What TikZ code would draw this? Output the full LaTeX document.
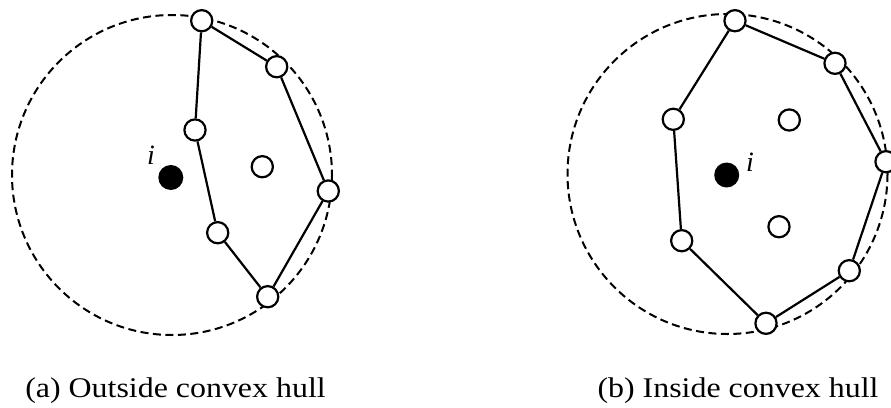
\documentclass[tikz,border=0pt]{standalone}
\usepackage{fontspec}
\setmainfont{Liberation Serif}
\begin{document}
\begin{tikzpicture}[x=1pt,y=-1pt,
  pt/.style={circle,draw,fill=white,line width=2.2pt,minimum size=21.2pt,inner sep=0pt},
  agent/.style={circle,fill=black,minimum size=25pt,inner sep=0pt},
  hull/.style={line width=2.2pt},
  ring/.style={line width=2pt,dash pattern=on 8pt off 4.5pt},
  lbl/.style={font=\fontsize{28}{32}\selectfont\itshape,inner sep=0pt},
  captxt/.style={font=\fontsize{28.5}{34}\selectfont,inner sep=0pt,anchor=base}]
\useasboundingbox (0,0) rectangle (891,407);
\clip (0,0) rectangle (891,407);
% ---------- (a) ----------
\draw[ring] (172,175) circle[radius=160];
\node[agent] (ai) at (170.8,177.5) {};
\node[lbl] (ail) at (151,155) {i};
\node[pt] (a1) at (201.7,20.7) {};
\node[pt] (a2) at (276.7,66.7) {};
\node[pt] (a3) at (328.3,191) {};
\node[pt] (a4) at (267.7,296.7) {};
\node[pt] (a5) at (217.7,232.7) {};
\node[pt] (a6) at (195,130) {};
\node[pt] (a7) at (262.3,166.7) {};
\draw[hull] (a1) -- (a2) -- (a3) -- (a4) -- (a5) -- (a6) -- (a1);
\node[captxt] (capa) at (175.5,397) {\scalebox{1.12}[1]{(a) Outside convex hull}};
% ---------- (b) ----------
\draw[ring] (727.5,174) circle[radius=160];
\node[agent] (bi) at (726.7,175) {};
\node[lbl] (bil) at (750,162) {i};
\node[pt] (b1) at (735,20.7) {};
\node[pt] (b2) at (835,63.3) {};
\node[pt] (b3) at (886,161.7) {};
\node[pt] (b4) at (849.3,270.7) {};
\node[pt] (b5) at (766,323.3) {};
\node[pt] (b6) at (681.7,240.7) {};
\node[pt] (b7) at (673.3,119.3) {};
\node[pt] (b8) at (789.3,120) {};
\node[pt] (b9) at (779,226.7) {};
\draw[hull] (b1) -- (b2) -- (b3) -- (b4) -- (b5) -- (b6) -- (b7) -- (b1);
\node[captxt] (capb) at (738,397) {\scalebox{1.12}[1]{(b) Inside convex hull}};
\end{tikzpicture}
\end{document}
